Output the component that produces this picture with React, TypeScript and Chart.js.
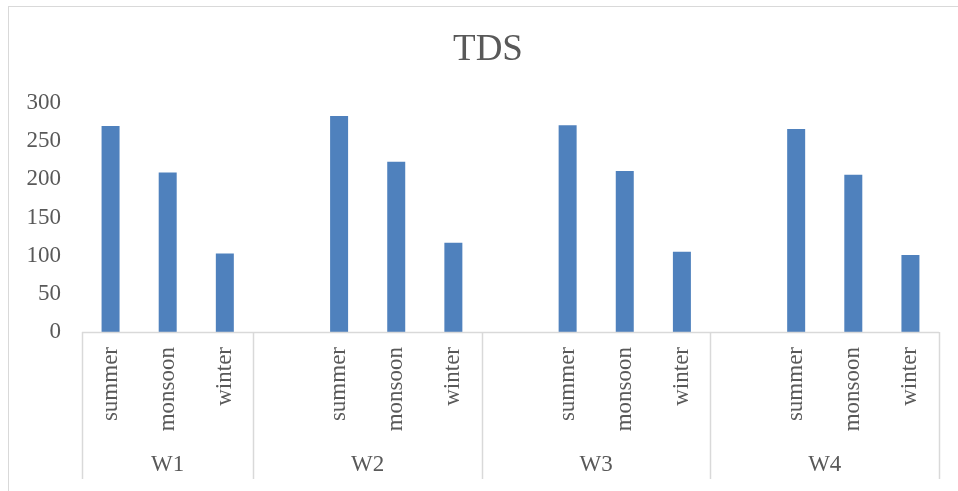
import React, { useEffect, useRef } from "react";
import { Chart, registerables } from "chart.js";

Chart.register(...registerables);

const seasons = ["summer", "monsoon", "winter"];
const groups = ["W1", "W2", "W3", "W4"];
const w1 = [270, 209, 103];
const w2 = [283, 223, 117];
const w3 = [271, 211, 105];
const w4 = [266, 206, 101];
const yTicks = [0, 50, 100, 150, 200, 250, 300];

// Excel-style layout: a blank spacer category precedes each group after the first
const categoryLabels: string[] = [];
const values: (number | null)[] = [];
const groupStarts: number[] = [];
const groupSizes: number[] = [];
[w1, w2, w3, w4].forEach((vals, gi) => {
  groupStarts.push(categoryLabels.length);
  if (gi > 0) {
    categoryLabels.push("");
    values.push(null);
  }
  seasons.forEach((s, i) => {
    categoryLabels.push(s);
    values.push(vals[i]);
  });
  groupSizes.push(categoryLabels.length - groupStarts[gi]);
});

const FONT = "'Liberation Serif', 'Times New Roman', serif";
const TEXT = "#595959";
const LINE = "#d9d9d9";

const groupPlugin = {
  id: "groupAxis",
  afterDraw(chart: any) {
    const { ctx, chartArea, scales } = chart;
    const x = scales.x;
    const n = categoryLabels.length;
    const w = (x.right - x.left) / n;
    const bottom = 479;
    ctx.save();
    ctx.strokeStyle = LINE;
    ctx.lineWidth = 1.5;
    ctx.beginPath();
    ctx.moveTo(chartArea.left, chartArea.bottom + 0.5);
    ctx.lineTo(chartArea.right, chartArea.bottom + 0.5);
    const bounds = [...groupStarts, n];
    bounds.forEach((b) => {
      const px = Math.round(x.left + b * w) + 0.5;
      ctx.moveTo(px, chartArea.bottom);
      ctx.lineTo(px, bottom);
    });
    ctx.stroke();
    ctx.fillStyle = TEXT;
    ctx.font = `23px ${FONT}`;
    ctx.textAlign = "center";
    ctx.textBaseline = "middle";
    groups.forEach((g, gi) => {
      const cx = x.left + (groupStarts[gi] + groupSizes[gi] / 2) * w;
      ctx.fillText(g, cx, 465);
    });
    // title
    ctx.font = `37px ${FONT}`;
    ctx.fillText("TDS", 488, 50);
    ctx.restore();
  },
};

export default function App() {
  const ref = useRef<HTMLCanvasElement | null>(null);
  useEffect(() => {
    if (!ref.current) return;
    const chart = new Chart(ref.current, {
      type: "bar",
      data: {
        labels: categoryLabels,
        datasets: [
          {
            label: "TDS",
            data: values,
            backgroundColor: "#4F81BD",
            borderWidth: 0,
            barPercentage: 0.315,
            categoryPercentage: 1,
          },
        ],
      },
      options: {
        animation: false,
        responsive: false,
        maintainAspectRatio: false,
        layout: { padding: { top: 103, right: 19, bottom: 0, left: 0 } },
        plugins: {
          legend: { display: false },
          title: { display: false },
          tooltip: { enabled: false },
        },
        scales: {
          x: {
            grid: { display: false, drawTicks: false },
            border: { display: false },
            afterFit: (s: any) => {
              s.height = 159;
            },
            ticks: {
              autoSkip: false,
              minRotation: 90,
              maxRotation: 90,
              padding: 15,
              color: TEXT,
              font: { family: FONT, size: 23 },
            },
          },
          y: {
            min: 0,
            max: 300,
            afterBuildTicks: (s: any) => {
              s.ticks = yTicks.map((v) => ({ value: v }));
            },
            grid: { display: false, drawTicks: false },
            border: { display: false },
            afterFit: (s: any) => {
              s.width = 82;
            },
            ticks: {
              padding: 21,
              color: TEXT,
              font: { family: FONT, size: 23 },
            },
          },
        },
      },
      plugins: [groupPlugin],
    });
    return () => chart.destroy();
  }, []);

  return (
    <div style={{ position: "fixed", left: 0, top: 0, width: 958, height: 491, overflow: "hidden", background: "#fff" }}>
      <div
        style={{
          position: "absolute",
          left: 8,
          top: 6,
          width: 1000,
          height: 1000,
          border: `1.5px solid ${LINE}`,
        }}
      />
      <canvas ref={ref} width={958} height={491} style={{ position: "absolute", left: 0, top: 0, width: 958, height: 491 }} />
    </div>
  );
}
